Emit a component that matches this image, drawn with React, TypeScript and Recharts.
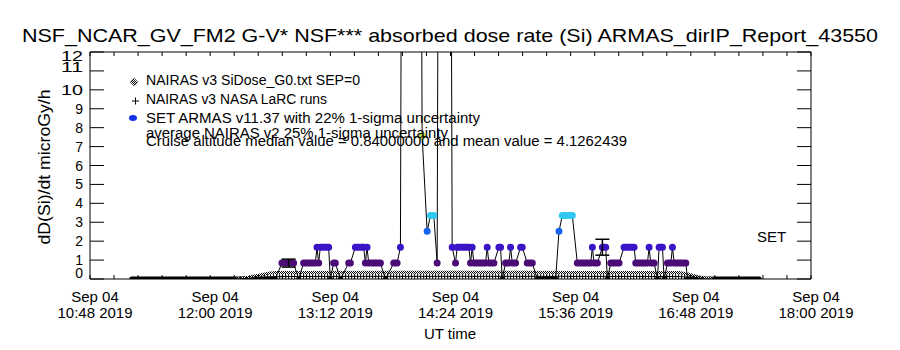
import React from "react";
import { ComposedChart, Line, XAxis, YAxis, ErrorBar } from "recharts";

const FONT = "'Liberation Sans', Arial, sans-serif";

const title = "NSF_NCAR_GV_FM2 G-V* NSF*** absorbed dose rate (Si) ARMAS_dirIP_Report_43550";
const yAxisTitle = "dD(Si)/dt microGy/h";
const xAxisTitle = "UT time";
const dateLabel = "Sep 04";
const yearLabel = "2019";
const majorTimes = ["10:48", "12:00", "13:12", "14:24", "15:36", "16:48", "18:00"];
const yTicks = [0, 1, 2, 3, 4, 5, 6, 7, 8, 9, 10, 11, 12];

const legendLabels = [
  "NAIRAS v3 SiDose_G0.txt SEP=0",
  "NAIRAS v3 NASA LaRC runs",
  "SET ARMAS v11.37 with 22% 1-sigma uncertainty",
  "average NAIRAS v2 25% 1-sigma uncertainty",
  "Cruise altitude median value = 0.84000000 and mean value = 4.1262439",
];

// SET ARMAS samples (UT, microGy/h); 30 = off scale
const armasTimes = [
  "11:13", "12:39", "12:43", "12:50", "12:53", "12:56", "13:03", "13:04", "13:05", "13:06",
  "13:11", "13:12", "13:14", "13:15", "13:18", "13:23", "13:24", "13:27", "13:32", "13:33",
  "13:34", "13:35", "13:42", "13:45", "13:50", "13:52", "13:54", "13:55", "14:06", "14:07",
  "14:10", "14:12", "14:14", "14:16", "14:17", "14:24", "14:25", "14:27", "14:28", "14:35",
  "14:36", "14:37", "14:38", "14:45", "14:46", "14:47", "14:50", "14:53", "14:54", "14:55",
  "14:57", "14:59", "15:00", "15:01", "15:03", "15:06", "15:07", "15:10", "15:13", "15:16",
  "15:27", "15:29", "15:31", "15:37", "15:40", "15:48", "15:49", "15:50", "15:52", "15:55",
  "15:57", "15:58", "16:00", "16:05", "16:08", "16:14", "16:15", "16:22", "16:23", "16:24",
  "16:26", "16:28", "16:29", "16:31", "16:32", "16:34", "16:36", "16:37", "16:38", "16:45",
  "16:46", "17:29",
];
const armasValues = [
  0, 0, 0.84, 0.84, 0, 0.84, 0.84, 1.68, 0.84, 1.68,
  1.68, 0, 0.84, 0.84, 0, 0.84, 0.84, 1.68, 1.68, 0.84,
  1.68, 0.84, 0.84, 0, 0.84, 0.84, 1.68, 30, 30, 7.56,
  2.52, 3.36, 3.36, 0.84, 30, 30, 1.68, 0.84, 1.68, 1.68,
  0.84, 1.68, 0.84, 0.84, 1.68, 0.84, 0.84, 1.68, 1.68, 0,
  0.84, 0.84, 1.68, 0.84, 0.84, 1.68, 1.68, 0.84, 0.84, 0,
  0, 2.52, 3.36, 3.36, 0.84, 0.84, 1.68, 0.84, 0.84, 1.68,
  1.68, 0, 0.84, 0.84, 1.68, 1.68, 0.84, 0.84, 1.68, 0.84,
  0.84, 0, 1.68, 1.68, 0, 0.84, 0.84, 1.68, 0.84, 0.84,
  0, 0,
];

const g0Times = ["12:16", "12:23", "12:29", "12:35", "12:39", "13:54", "14:54", "15:54", "16:41", "16:47", "16:53", "17:01"];
const g0Values = [0, 0.1, 0.2, 0.3, 0.35, 0.36, 0.36, 0.35, 0.34, 0.25, 0.1, 0];

const larcTimes = ["12:18", "12:27", "12:36", "12:43", "13:30", "14:30", "15:30", "16:41", "16:49", "16:56"];
const larcValues = [0, 0.06, 0.11, 0.13, 0.14, 0.14, 0.14, 0.13, 0.08, 0.02];

const errTimes = ["12:47", "15:55"];
const errValues = [0.84, 1.68];
const errSigma = [0.21, 0.42];

const levels = [0, 0.84, 1.68, 2.52, 3.36, 7.56];
const levelColors = ["#000000", "#4c0c78", "#3c14c8", "#1464ee", "#30c8f0", "#bce040"];

const toMin = (s: string) => {
  const [h, m] = s.split(":").map(Number);
  return h * 60 + m;
};

const majorMin = majorTimes.map(toMin);
const xTicks: number[] = [];
majorMin.forEach((m, i) => {
  if (i < majorMin.length - 1) {
    for (let k = 0; k < 5; k++) xTicks.push(m + (k * (majorMin[i + 1] - m)) / 5);
  } else xTicks.push(m);
});

const armas = armasTimes.map((t, i) => ({ t: toMin(t), v: armasValues[i] }));
const g0 = g0Times.map((t, i) => ({ t: toMin(t), v: g0Values[i] }));
const larc = larcTimes.map((t, i) => ({ t: toMin(t), v: larcValues[i] }));
const errs = errTimes.map((t, i) => ({ t: toMin(t), v: errValues[i], e: errSigma[i] }));

// runs of equal value -> thick round segments (markers overlap into bars)
function levelData(level: number) {
  const out: { t: number; v: number | null }[] = [];
  let i = 0;
  while (i < armas.length) {
    if (armas[i].v !== level) {
      i++;
      continue;
    }
    let j = i;
    while (j + 1 < armas.length && armas[j + 1].v === level) j++;
    out.push({ t: armas[i].t, v: level }, { t: armas[j].t, v: level }, { t: armas[j].t, v: null });
    i = j + 1;
  }
  return out;
}

const isMajor = (v: number) => majorMin.findIndex((m) => Math.abs(m - v) < 0.01);

function BottomTick(props: any) {
  const { x, y, payload } = props;
  const i = isMajor(payload.value);
  return (
    <g>
      <line x1={x} x2={x} y1={y} y2={y - 4} stroke="#000" />
      {i >= 0 && (
        <text textAnchor="middle" fontSize={15} fontFamily={FONT} fill="#000">
          <tspan x={x + 5} y={y + 23}>{dateLabel}</tspan>
          <tspan x={x + 5} y={y + 39}>{`${majorTimes[i]} ${yearLabel}`}</tspan>
        </text>
      )}
    </g>
  );
}

function TopTick(props: any) {
  const { x, y } = props;
  return <line x1={x} x2={x} y1={y} y2={y + 4} stroke="#000" />;
}

function LeftTick(props: any) {
  const { x, y, payload } = props;
  const v = payload.value;
  const dy = v === 0 ? -6 : v === 11 ? -4 : v === 12 ? 4 : 0;
  return (
    <g>
      <line x1={x} x2={x + 14} y1={y} y2={y} stroke="#000" />
      <text
        x={x - 7}
        y={y + dy}
        textAnchor="end"
        dominantBaseline="central"
        fontSize={14}
        fontFamily={FONT}
        fill="#000"
        {...(v >= 10 ? { textLength: 22, lengthAdjust: "spacingAndGlyphs" } : {})}
      >
        {v}
      </text>
    </g>
  );
}

function RightTick(props: any) {
  const { x, y } = props;
  return <line x1={x} x2={x - 14} y1={y} y2={y} stroke="#000" />;
}

const lineProps = {
  dataKey: "v",
  isAnimationActive: false,
  dot: false,
  activeDot: false,
  type: "linear" as const,
  legendType: "none" as const,
};

export default function App() {
  return (
    <div style={{ position: "absolute", left: 0, top: 0, width: 900, height: 350, background: "#fff" }}>
      <ComposedChart width={900} height={350} margin={{ top: 51, right: 88, bottom: 70, left: 89 }}>
        <defs>
          <pattern id="chk" width="2" height="2" patternUnits="userSpaceOnUse">
            <rect width="2" height="2" fill="#fff" />
            <rect width="1" height="1" fill="#000" />
            <rect x="1" y="1" width="1" height="1" fill="#000" />
          </pattern>
        </defs>
        <XAxis
          xAxisId="b"
          dataKey="t"
          type="number"
          domain={[majorMin[0], majorMin[majorMin.length - 1]]}
          allowDataOverflow
          ticks={xTicks}
          interval={0}
          height={1}
          tickSize={0}
          tickMargin={0}
          tickLine={false}
          axisLine={{ stroke: "#000" }}
          tick={<BottomTick />}
        />
        <XAxis
          xAxisId="top"
          orientation="top"
          dataKey="t"
          type="number"
          domain={[majorMin[0], majorMin[majorMin.length - 1]]}
          allowDataOverflow
          ticks={xTicks}
          interval={0}
          height={1}
          tickSize={0}
          tickMargin={0}
          tickLine={false}
          axisLine={{ stroke: "#000" }}
          tick={<TopTick />}
        />
        <YAxis
          yAxisId="l"
          type="number"
          domain={[0, 12]}
          allowDataOverflow
          ticks={yTicks}
          interval={0}
          width={1}
          tickSize={0}
          tickMargin={0}
          tickLine={false}
          axisLine={{ stroke: "#000" }}
          tick={<LeftTick />}
        />
        <YAxis
          yAxisId="r"
          orientation="right"
          type="number"
          domain={[0, 12]}
          allowDataOverflow
          ticks={yTicks}
          interval={0}
          width={1}
          tickSize={0}
          tickMargin={0}
          tickLine={false}
          axisLine={{ stroke: "#000" }}
          tick={<RightTick />}
        />

        <Line {...lineProps} xAxisId="b" yAxisId="l" data={levelData(0)} stroke="#000" strokeWidth={5} strokeLinecap="round" />
        <Line {...lineProps} xAxisId="b" yAxisId="l" data={g0} stroke="url(#chk)" strokeWidth={3} />
        <Line {...lineProps} xAxisId="b" yAxisId="l" data={larc} stroke="#000" strokeWidth={5} strokeDasharray="1 2" />
        <Line {...lineProps} xAxisId="b" yAxisId="l" data={larc} stroke="#000" strokeWidth={1} />
        <Line {...lineProps} xAxisId="b" yAxisId="l" data={armas} stroke="#000" strokeWidth={1} />
        {levels.slice(1).map((lv, k) => (
          <Line
            key={lv}
            {...lineProps}
            xAxisId="b"
            yAxisId="l"
            data={levelData(lv)}
            stroke={levelColors[k + 1]}
            strokeWidth={7}
            strokeLinecap="round"
          />
        ))}
        <Line {...lineProps} xAxisId="b" yAxisId="l" data={errs} stroke="none">
          <ErrorBar dataKey="e" direction="y" width={7} stroke="#000" strokeWidth={1.5} />
        </Line>
      </ComposedChart>

      <svg width={900} height={350} style={{ position: "absolute", left: 0, top: 0, pointerEvents: "none" }}>
        <defs>
          <pattern id="chk2" width="2" height="2" patternUnits="userSpaceOnUse">
            <rect width="2" height="2" fill="#fff" />
            <rect width="1" height="1" fill="#000" />
            <rect x="1" y="1" width="1" height="1" fill="#000" />
          </pattern>
        </defs>
        <g fontFamily={FONT} fill="#000">
          <text x={450} y={42} textAnchor="middle" fontSize={19} textLength={856} lengthAdjust="spacingAndGlyphs">
            {title}
          </text>
          <text
            transform="translate(50,167) rotate(-90)"
            textAnchor="middle"
            fontSize={16}
            textLength={155}
            lengthAdjust="spacingAndGlyphs"
          >
            {yAxisTitle}
          </text>
          <text x={450} y={339} textAnchor="middle" fontSize={15}>
            {xAxisTitle}
          </text>
          <text x={757} y={242} fontSize={15}>
            SET
          </text>

          <polygon points="134,78 138,82 134,86 130,82" fill="url(#chk2)" stroke="#555" strokeWidth={0.5} />
          <path d="M132,101 h7 M135.5,97.5 v7" stroke="#000" strokeWidth={1} />
          <ellipse cx={133} cy={118} rx={4} ry={3} fill="#1430e8" />

          <text x={146} y={85} fontSize={14} textLength={214} lengthAdjust="spacingAndGlyphs">{legendLabels[0]}</text>
          <text x={146} y={104} fontSize={14} textLength={181} lengthAdjust="spacingAndGlyphs">{legendLabels[1]}</text>
          <text x={146} y={123} fontSize={14} textLength={334} lengthAdjust="spacingAndGlyphs">{legendLabels[2]}</text>
          <text x={146} y={138} fontSize={14} textLength={302} lengthAdjust="spacingAndGlyphs">{legendLabels[3]}</text>
          <text x={146} y={146} fontSize={14} textLength={481} lengthAdjust="spacingAndGlyphs">{legendLabels[4]}</text>
        </g>
      </svg>
    </div>
  );
}
